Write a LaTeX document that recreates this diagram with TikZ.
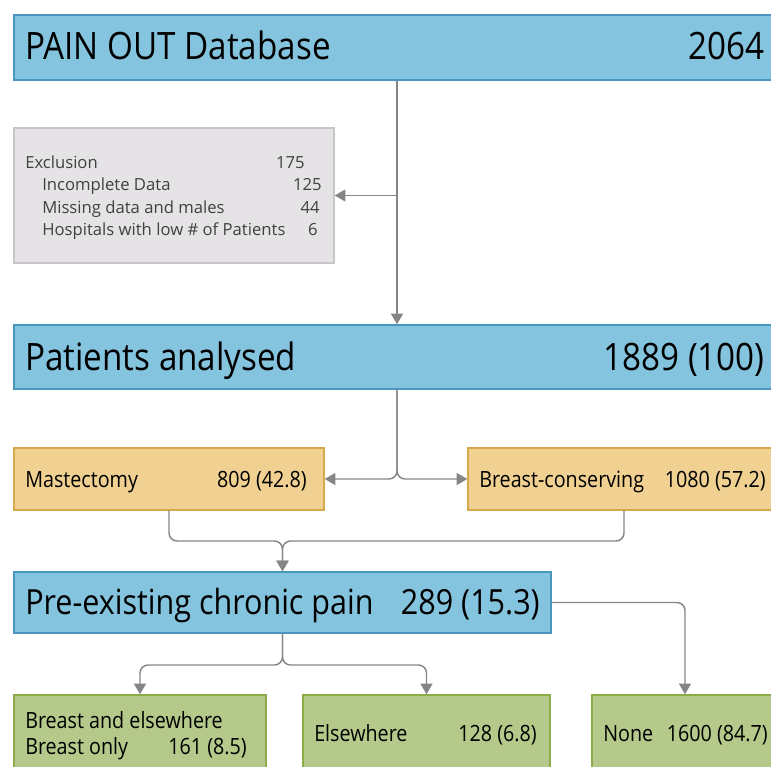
\documentclass[tikz,border=0pt]{standalone}
\usepackage{fontspec}
\setmainfont{Open Sans}
\newfontfamily\condfont{Open Sans}[FakeStretch=0.88]
\usepackage{tikz}
\usetikzlibrary{arrows.meta, positioning}

\definecolor{bluefill}{HTML}{85C4DE}
\definecolor{blueline}{HTML}{4A97BD}
\definecolor{tanfill}{HTML}{F0D191}
\definecolor{tanline}{HTML}{D6A84A}
\definecolor{greenfill}{HTML}{B5C98A}
\definecolor{greenline}{HTML}{8AAD4A}
\definecolor{greyfill}{HTML}{E6E3E7}
\definecolor{greyline}{HTML}{C9C6CA}
\definecolor{linkgrey}{HTML}{858585}

\tikzset{
  box/.style    = {draw, line width=1.1pt, inner sep=0pt},
  bluebox/.style  = {box, fill=bluefill,  draw=blueline},
  tanbox/.style   = {box, fill=tanfill,   draw=tanline},
  greenbox/.style = {box, fill=greenfill, draw=greenline},
  greybox/.style  = {box, fill=greyfill,  draw=greyline},
  bigtxt/.style   = {inner sep=0pt, font=\condfont\fontsize{28.3}{32}\selectfont},
  pretxt/.style   = {inner sep=0pt, font=\condfont\fontsize{26}{30}\selectfont},
  midtxt/.style   = {inner sep=0pt, font=\condfont\fontsize{16.8}{19}\selectfont},
  smalltxt/.style = {inner sep=0pt, text=black!75, font=\fontsize{12.5}{14}\selectfont},
  arr/.style      = {draw=linkgrey, line width=1.1pt, rounded corners=6pt,
                     -{Triangle[length=8pt, width=9pt]}, color=linkgrey},
}

\begin{document}
\begin{tikzpicture}[x=0.75pt, y=-0.75pt]

\useasboundingbox (0,0) rectangle (771,767);
\clip (0,0) rectangle (771,767);

% boxes
\node [bluebox , minimum width=574.5pt , minimum height=48.75pt ] (db) at (397  ,47.5 ) {};
\node [greybox , minimum width=240pt   , minimum height=101.25pt] (ex) at (174  ,195.5) {};
\node [bluebox , minimum width=574.5pt , minimum height=48pt    ] (pa) at (397  ,357  ) {};
\node [tanbox  , minimum width=232.5pt , minimum height=46.5pt  ] (ma) at (169  ,479  ) {};
\node [tanbox  , minimum width=234pt   , minimum height=46.5pt  ] (bc) at (624  ,479  ) {};
\node [bluebox , minimum width=402.75pt, minimum height=45.75pt ] (pe) at (282.5,602.5) {};
\node [greenbox, minimum width=189pt   , minimum height=78.75pt ] (be) at (140  ,747.5) {};
\node [greenbox, minimum width=185.25pt, minimum height=78.75pt ] (el) at (426.5,747.5) {};
\node [greenbox, minimum width=139.5pt , minimum height=78.75pt ] (no) at (685  ,747.5) {};

% texts
\node [bigtxt  , anchor=base west] (dbl)  at (25 ,60 ) {PAIN OUT Database};
\node [bigtxt  , anchor=base east] (dbn)  at (765,60 ) {2064};
\node [smalltxt, anchor=base west] (exl)  at (25 ,168) {Exclusion};
\node [smalltxt, anchor=base east] (exn)  at (305,168) {175};
\node [smalltxt, anchor=base west] (idl)  at (42 ,190) {Incomplete Data};
\node [smalltxt, anchor=base east] (idn)  at (322,190) {125};
\node [smalltxt, anchor=base west] (mdl)  at (42 ,213) {Missing data and males};
\node [smalltxt, anchor=base east] (mdn)  at (320,213) {44};
\node [smalltxt, anchor=base west] (hol)  at (42 ,235) {Hospitals with low \# of Patients};
\node [smalltxt, anchor=base east] (hon)  at (318,235) {6};
\node [bigtxt  , anchor=base west] (pal)  at (25 ,370) {Patients analysed};
\node [bigtxt  , anchor=base east] (pan)  at (765,370) {1889 (100)};
\node [midtxt  , anchor=base west] (mal)  at (25 ,487) {Mastectomy};
\node [midtxt  , anchor=base east] (man)  at (307,487) {809 (42.8)};
\node [midtxt  , anchor=base west] (bcl)  at (479,487) {Breast-conserving};
\node [midtxt  , anchor=base east] (bcn)  at (766,487) {1080 (57.2)};
\node [pretxt  , anchor=base west] (pel)  at (25 ,614) {Pre-existing chronic pain};
\node [pretxt  , anchor=base east] (pen)  at (540,614) {289 (15.3)};
\node [midtxt  , anchor=base west] (bel)  at (25 ,728) {Breast and elsewhere};
\node [midtxt  , anchor=base west] (bol)  at (25 ,754) {Breast only};
\node [midtxt  , anchor=base east] (bon)  at (247,754) {161 (8.5)};
\node [midtxt  , anchor=base west] (ell)  at (314,741) {Elsewhere};
\node [midtxt  , anchor=base east] (eln)  at (537,741) {128 (6.8)};
\node [midtxt  , anchor=base west] (nol)  at (603,741) {None};
\node [midtxt  , anchor=base east] (non)  at (768,741) {1600 (84.7)};

% junctions
\coordinate (mg) at (282.5,541);
\coordinate (sp) at (282.5,665);

\path [arr] (db.south) -- (pa.north);
\path [arr] (db.south |- ex.east) -- (ex.east);
\path [arr] (pa.south) |- (ma.east);
\path [arr] (pa.south) |- (bc.west);
\path [arr] (ma.south) |- (mg) -- (pe.north);
\path [arr] (bc.south) |- (mg) -- (pe.north);
\path [arr] (pe.south) -- (sp) -| (be.north);
\path [arr] (pe.south) -- (sp) -| (el.north);
\path [arr] (pe.east) -| (no.north);

\end{tikzpicture}
\end{document}
